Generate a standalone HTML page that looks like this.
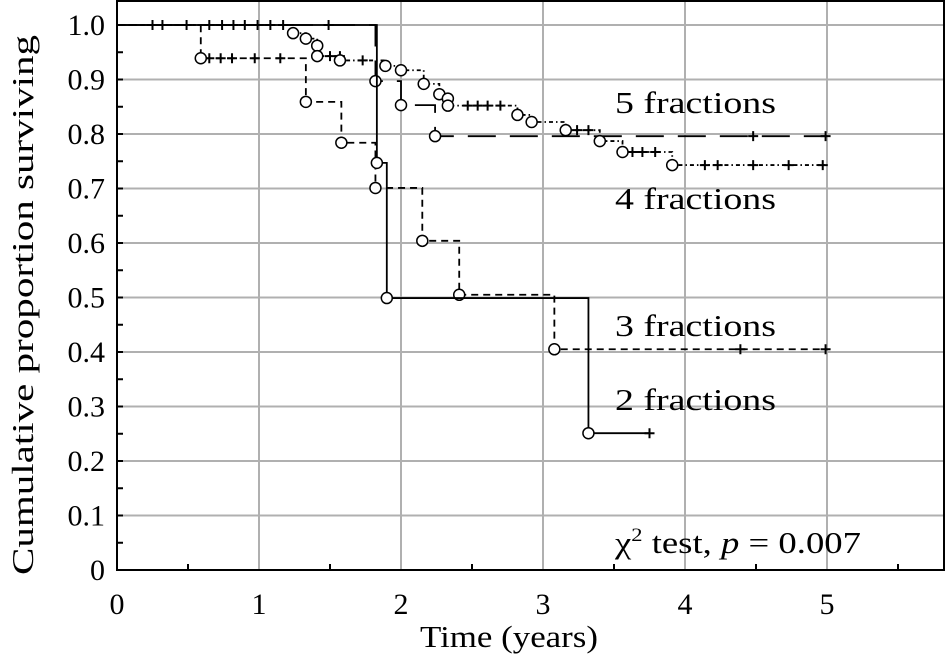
<!DOCTYPE html>
<html><head><meta charset="utf-8"><style>
body{margin:0;background:#fff}
svg{display:block;font-family:"Liberation Serif",serif}
</style></head><body>
<svg id="chart" width="946" height="661" viewBox="0 0 946 661"></svg>
<script>
const xTicks=[0,1,2,3,4,5];
const yTicks=[0,0.1,0.2,0.3,0.4,0.5,0.6,0.7,0.8,0.9,1.0];
const yTickLabels=["0","0.1","0.2","0.3","0.4","0.5","0.6","0.7","0.8","0.9","1.0"];
// steps: [time, new survival]
const steps2=[[1.83,0.747],[1.90,0.499],[3.32,0.251]];
const cens2=[[0.25,1],[0.32,1],[0.49,1],[0.65,1],[0.74,1],[0.82,1],[0.90,1],[0.99,1],[1.08,1],[1.17,1],[1.49,1],[3.75,0.251]];
const end2=3.75;
const steps3=[[0.59,0.939],[1.33,0.859],[1.58,0.784],[1.82,0.701],[2.15,0.604],[2.41,0.505],[3.08,0.405]];
const cens3=[[0.65,0.939],[0.73,0.939],[0.81,0.939],[0.97,0.939],[1.15,0.939],[4.39,0.405],[4.99,0.405]];
const end3=5.0;
const steps4=[[1.24,0.985],[1.33,0.975],[1.41,0.962],[1.41,0.943],[1.57,0.935],[1.89,0.925],[2.0,0.917],[2.16,0.892],[2.27,0.873],[2.33,0.865],[2.33,0.852],[2.82,0.835],[2.92,0.822],[3.16,0.807],[3.40,0.787],[3.56,0.767],[3.91,0.743]];
const cens4=[[1.50,0.943],[1.57,0.943],[1.73,0.935],[2.47,0.852],[2.54,0.852],[2.61,0.852],[2.70,0.852],[3.24,0.807],[3.32,0.807],[3.63,0.767],[3.70,0.767],[3.79,0.767],[4.14,0.743],[4.23,0.743],[4.48,0.743],[4.73,0.743],[4.97,0.743]];
const end4=5.0;
const steps5=[[1.82,0.897],[2.0,0.853],[2.24,0.796]];
const cens5=[[4.48,0.796],[4.99,0.796]];
const end5=5.0;

const X0=117,XS=142,Y0=570,YS=545;
const sx=t=>X0+t*XS, sy=v=>Y0-v*YS;
const svg=document.getElementById('chart');
const NS='http://www.w3.org/2000/svg';
function mk(tag,attrs,parent){const e=document.createElementNS(NS,tag);for(const k in attrs)e.setAttribute(k,attrs[k]);(parent||svg).appendChild(e);return e;}

// grid
const grid=mk('g',{});


xTicks.slice(1).forEach(t=>mk('line',{x1:sx(t),x2:sx(t),y1:1,y2:Y0,stroke:'#b0b0b0','stroke-width':2},grid));
yTicks.slice(1).forEach(v=>mk('line',{x1:X0,x2:944,y1:sy(v),y2:sy(v),stroke:'#b0b0b0','stroke-width':2},grid));

// series
function series(name,steps,cens,end,dash){
  const g=mk('g',{});
  
  
  let d='M'+sx(0)+','+sy(1);let v=1;
  steps.forEach(([t,s])=>{d+=' L'+sx(t)+','+sy(v)+' L'+sx(t)+','+sy(s);v=s;});
  d+=' L'+sx(end)+','+sy(v);
  const p=mk('path',{d:d,fill:'none',stroke:'#000','stroke-width':1.8,'stroke-dasharray':dash},g);
  
  
  cens.forEach(([t,s])=>{
    const c=mk('path',{d:`M${sx(t)-5},${sy(s)} h10 M${sx(t)},${sy(s)-5} v10`,stroke:'#000','stroke-width':2},g);
    
    
  });
  steps.forEach(([t,s])=>{
    const c=mk('circle',{cx:sx(t),cy:sy(s),r:5.5,fill:'#fff',stroke:'#000','stroke-width':1.5},g);
    
    
  });
}
series('series-3-fractions',steps3,cens3,end3,'7,5');
series('series-5-fractions',steps5,cens5,end5,'28,14');
series('series-4-fractions',steps4,cens4,end4,'4,3,1.5,3');
series('series-2-fractions',steps2,cens2,end2,'none');

// axes frame
const fr=mk('rect',{x:X0,y:1,width:944-X0,height:Y0-1,fill:'none',stroke:'#000','stroke-width':2});


const ax=mk('g',{});


for(let v=0.05;v<1.04;v+=0.1)mk('line',{x1:X0,x2:X0+6,y1:sy(v),y2:sy(v),stroke:'#000','stroke-width':2},ax);
yTicks.forEach(v=>mk('line',{x1:X0,x2:X0+6,y1:sy(v),y2:sy(v),stroke:'#000','stroke-width':2},ax));
for(let t=0.5;t<5.8;t+=1)mk('line',{x1:sx(t),x2:sx(t),y1:Y0,y2:Y0-6,stroke:'#000','stroke-width':2},ax);
yTicks.forEach((v,i)=>{const e=mk('text',{x:X0-12,y:sy(v)+10,'text-anchor':'end','font-size':30},ax);e.textContent=yTickLabels[i];
});
xTicks.forEach(t=>{const e=mk('text',{x:sx(t),y:Y0+44,'text-anchor':'middle','font-size':30},ax);e.textContent=String(t);
});
</script>
<svg width="946" height="661" style="position:absolute;left:0;top:0">
<g font-family="Liberation Serif, serif" font-size="31">
<text x="615" y="113" textLength="161" lengthAdjust="spacingAndGlyphs">5 fractions</text>
<text x="615" y="209" textLength="161" lengthAdjust="spacingAndGlyphs">4 fractions</text>
<text x="615" y="336" textLength="161" lengthAdjust="spacingAndGlyphs">3 fractions</text>
<text x="615" y="410" textLength="161" lengthAdjust="spacingAndGlyphs">2 fractions</text>
<text x="615" y="553" textLength="246" lengthAdjust="spacingAndGlyphs">χ<tspan font-size="19" dy="-12">2</tspan><tspan dy="12"> test, </tspan><tspan font-style="italic">p</tspan> = 0.007</text>
<text x="420" y="647" textLength="178" lengthAdjust="spacingAndGlyphs">Time (years)</text>
<text transform="translate(33,575) rotate(-90)" textLength="540" lengthAdjust="spacingAndGlyphs">Cumulative proportion surviving</text>
</g>
</svg>
</body></html>
